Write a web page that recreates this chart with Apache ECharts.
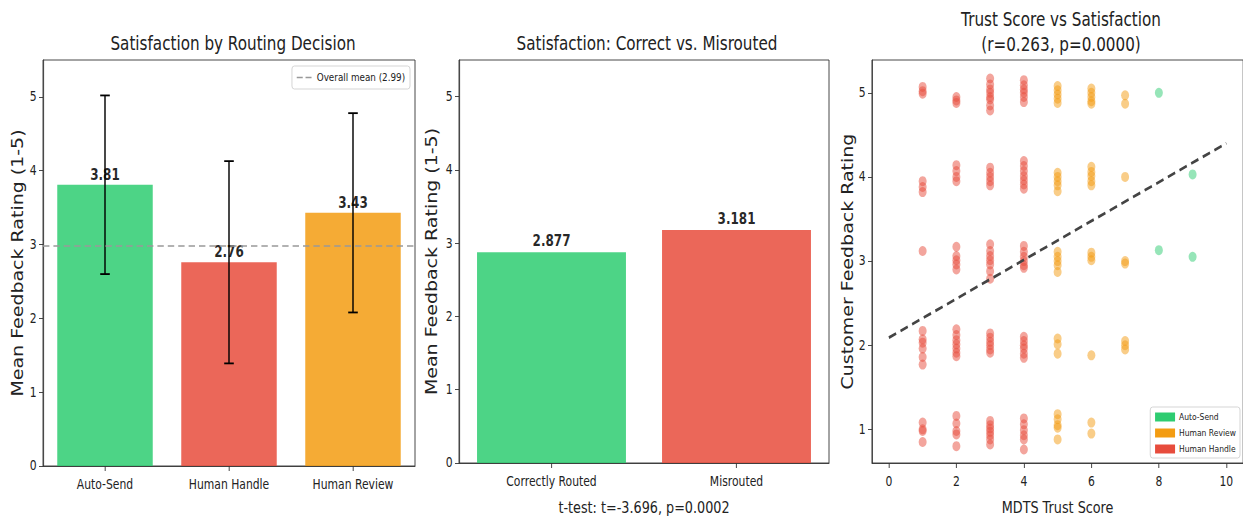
<!DOCTYPE html>
<html>
<head>
<meta charset="utf-8">
<script src="https://cdn.jsdelivr.net/npm/echarts@6/dist/echarts.min.js"></script>
<style>
  html, body { margin: 0; padding: 0; background: #fff; }
  #wrap { width: 1243px; height: 520px; overflow: hidden; position: relative; }
  #chart { width: 1554px; height: 520px; transform: scaleX(0.8); transform-origin: 0 0; }
</style>
</head>
<body>
<div id="wrap"><div id="chart"></div></div>
<script>
// ---- data ----
const routeCategories = ['Auto-Send', 'Human Handle', 'Human Review'];
const routeMeans = [3.81, 2.76, 3.43];
const routeStd = [1.21, 1.37, 1.35];
const overallMean = 2.99;

const outcomeCategories = ['Correctly Routed', 'Misrouted'];
const outcomeMeans = [2.877, 3.181];
const tTestText = 't-test: t=-3.696, p=0.0002';

const ratingTicks = [0, 1, 2, 3, 4, 5];
const feedbackTicks = [1, 2, 3, 4, 5];
const trustTicks = [0, 2, 4, 6, 8, 10];

// [MDTS trust score, jittered feedback rating]
const autoSendPoints = [[8, 5.0], [8, 3.13], [9, 4.03], [9, 3.05]];
const humanReviewPoints = [
  [5, 5.08], [5, 5.03], [5, 4.98], [5, 4.93], [5, 4.88], [5, 4.05], [5, 4.0], [5, 3.95], [5, 3.9], [5, 3.83],
  [5, 3.11], [5, 3.05], [5, 3.0], [5, 2.95], [5, 2.87], [5, 2.08], [5, 2.01], [5, 1.9],
  [5, 1.18], [5, 1.12], [5, 1.05], [5, 1.02], [5, 0.88],
  [6, 5.05], [6, 5.0], [6, 4.95], [6, 4.9], [6, 4.87], [6, 4.12], [6, 4.06], [6, 4.01], [6, 3.95], [6, 3.9],
  [6, 3.1], [6, 3.05], [6, 3.01], [6, 1.88], [6, 1.08], [6, 0.95],
  [7, 4.97], [7, 4.87], [7, 4.0], [7, 3.0], [7, 2.97], [7, 2.05], [7, 2.0], [7, 1.95]
];
const humanHandlePoints = [
  [1, 5.07], [1, 5.02], [1, 4.99], [1, 3.95], [1, 3.88], [1, 3.82], [1, 3.12],
  [1, 2.17], [1, 2.07], [1, 2.03], [1, 1.96], [1, 1.86], [1, 1.77], [1, 1.08], [1, 1.0], [1, 0.98], [1, 0.85],
  [2, 4.95], [2, 4.91], [2, 4.88], [2, 4.14], [2, 4.07], [2, 4.0], [2, 3.95], [2, 3.17], [2, 3.06], [2, 3.01],
  [2, 2.96], [2, 2.9], [2, 2.19], [2, 2.12], [2, 2.06], [2, 2.01], [2, 1.96], [2, 1.91], [2, 1.87],
  [2, 1.16], [2, 1.07], [2, 0.98], [2, 0.94], [2, 0.8],
  [3, 5.17], [3, 5.1], [3, 5.04], [3, 5.0], [3, 4.95], [3, 4.92], [3, 4.85], [3, 4.79], [3, 4.11], [3, 4.05],
  [3, 4.0], [3, 3.95], [3, 3.9], [3, 3.2], [3, 3.12], [3, 3.06], [3, 3.01], [3, 2.96], [3, 2.88], [3, 2.79],
  [3, 2.14], [3, 2.09], [3, 2.04], [3, 2.0], [3, 1.95], [3, 1.91], [3, 1.1], [3, 1.05], [3, 1.01], [3, 0.97],
  [3, 0.93], [3, 0.88], [3, 0.82],
  [4, 5.15], [4, 5.09], [4, 5.04], [4, 5.0], [4, 4.95], [4, 4.89], [4, 4.19], [4, 4.13], [4, 4.07], [4, 4.01],
  [4, 3.96], [4, 3.91], [4, 3.86], [4, 3.18], [4, 3.11], [4, 3.05], [4, 3.0], [4, 2.95], [4, 2.92],
  [4, 2.1], [4, 2.05], [4, 2.0], [4, 1.96], [4, 1.9], [4, 1.85], [4, 1.13], [4, 1.06], [4, 0.99], [4, 0.93],
  [4, 0.88], [4, 0.76]
];
// least-squares fit endpoints (trust 0 and 10)
const fitLine = [[0, 2.09], [10, 4.4]];
const corrTitle = 'Trust Score vs Satisfaction\n(r=0.263, p=0.0000)';

// ---- styling ----
const SX = 0.8;                 // horizontal scale applied to the canvas
const W = 1554;                 // unscaled canvas width
const X = v => v / SX;          // page px -> canvas px (horizontal)
const FONT = "'DejaVu Sans', sans-serif";
const GREEN = '#2ecc71', RED = '#e74c3c', ORANGE = '#f39c12';
const routeColors = [GREEN, RED, ORANGE];
const outcomeColors = [GREEN, RED];
const ink = '#222';
// two short dashes, as a legend key for the dashed mean line
const DASH_ICON = 'path://M0,0L0.01,0L0.01,0.01Z M0,4.2H7.5V5.8H0Z M11,4.2H18.5V5.8H11Z M20,10L19.99,10L19.99,9.99Z';

const chart = echarts.init(document.getElementById('chart'), null, { renderer: 'svg' });

function grid(leftPx, rightEdgePx) {
  return {
    left: X(leftPx), right: W - X(rightEdgePx), top: 60, bottom: 54,
    show: true, borderColor: '#333', borderWidth: 1, backgroundColor: 'transparent'
  };
}

function yAxisCommon(idx, name, gap, min, max, ticks) {
  return {
    type: 'value', gridIndex: idx, min, max,
    name, nameLocation: 'middle', nameGap: gap, nameRotate: 90,
    nameTextStyle: { fontFamily: FONT, fontSize: 19, color: ink },
    axisLine: { show: true, onZero: false, lineStyle: { color: '#333', width: 1 } },
    axisTick: { show: true, length: 5, lineStyle: { color: '#333' }, customValues: ticks },
    axisLabel: { fontFamily: FONT, fontSize: 13.5, color: ink, margin: 8, customValues: ticks },
    splitLine: { show: false }
  };
}

function catAxis(idx, data, name) {
  return {
    type: 'category', gridIndex: idx, data,
    name: name || '', nameLocation: 'middle', nameGap: 36,
    nameTextStyle: { fontFamily: FONT, fontSize: 16, color: ink },
    axisLine: { show: true, onZero: false, lineStyle: { color: '#333', width: 1 } },
    axisTick: { show: true, alignWithLabel: true, length: 5, lineStyle: { color: '#333' } },
    axisLabel: { fontFamily: FONT, fontSize: 13.5, color: ink, margin: 12, interval: 0 },
    splitLine: { show: false }
  };
}

const errorBars = routeMeans.map((m, i) => [i, m - routeStd[i], m + routeStd[i]]);

const option = {
  backgroundColor: '#fff',
  animation: false,
  title: [
    { text: 'Satisfaction by Routing Decision', left: X(229), top: 29, textAlign: 'center',
      textStyle: { fontFamily: FONT, fontSize: 19, fontWeight: 'normal', color: ink } },
    { text: 'Satisfaction: Correct vs. Misrouted', left: X(643), top: 29, textAlign: 'center',
      textStyle: { fontFamily: FONT, fontSize: 19, fontWeight: 'normal', color: ink } },
    { text: corrTitle, left: X(1057), top: 2, textAlign: 'center',
      textStyle: { fontFamily: FONT, fontSize: 19, fontWeight: 'normal', color: ink, lineHeight: 25 } }
  ],
  legend: [
    {
      data: [{ name: 'Overall mean (2.99)', icon: DASH_ICON }],
      right: W - X(410), top: 66, orient: 'vertical',
      itemWidth: 20, itemHeight: 10, padding: [6, 6, 6, 6],
      backgroundColor: '#fff', borderColor: '#d0d0d0', borderWidth: 1, borderRadius: 3,
      itemStyle: { color: '#999', opacity: 1 },
      textStyle: { fontFamily: FONT, fontSize: 11, color: ink }
    },
    {
      data: ['Auto-Send', 'Human Review', 'Human Handle'],
      right: 4, bottom: 62, orient: 'vertical', icon: 'rect',
      itemWidth: 25, itemHeight: 9, itemGap: 6, padding: [5, 5, 4, 6],
      backgroundColor: '#fff', borderColor: '#d0d0d0', borderWidth: 1, borderRadius: 3,
      itemStyle: { opacity: 1 },
      textStyle: { fontFamily: FONT, fontSize: 9.5, color: ink }
    }
  ],
  grid: [grid(43, 415), grid(459, 829), {
    left: X(872), right: -3, top: 60, bottom: 53,
    show: true, borderColor: '#333', borderWidth: 1, backgroundColor: 'transparent'
  }],
  xAxis: [
    catAxis(0, routeCategories),
    catAxis(1, outcomeCategories, tTestText),
    {
      type: 'value', gridIndex: 2, min: -0.5, max: 10.5,
      name: 'MDTS Trust Score', nameLocation: 'middle', nameGap: 36,
      nameTextStyle: { fontFamily: FONT, fontSize: 16, color: ink },
      axisLine: { show: true, onZero: false, lineStyle: { color: '#333', width: 1 } },
      axisTick: { show: true, length: 5, lineStyle: { color: '#333' }, customValues: trustTicks },
      axisLabel: { fontFamily: FONT, fontSize: 13.5, color: ink, margin: 12, customValues: trustTicks },
      splitLine: { show: false }
    }
  ],
  yAxis: [
    yAxisCommon(0, 'Mean Feedback Rating (1-5)', 22, 0, 5.5, ratingTicks),
    yAxisCommon(1, 'Mean Feedback Rating (1-5)', 25, 0, 5.5, ratingTicks),
    yAxisCommon(2, 'Customer Feedback Rating', 21, 0.6, 5.39, feedbackTicks)
  ],
  series: [
    {
      type: 'bar', xAxisIndex: 0, yAxisIndex: 0, barCategoryGap: '23%',
      data: routeMeans.map((v, i) => ({ value: v, itemStyle: { color: routeColors[i], opacity: 0.85 } })),
      label: {
        show: true, position: 'top', distance: 3,
        formatter: p => p.value.toFixed(2),
        fontFamily: FONT, fontSize: 15, fontWeight: 'bold', color: '#000'
      },
      z: 2
    },
    {
      type: 'custom', xAxisIndex: 0, yAxisIndex: 0, data: errorBars,
      encode: { x: 0, y: [1, 2] },
      renderItem: function (params, api) {
        const lo = api.coord([api.value(0), api.value(1)]);
        const hi = api.coord([api.value(0), api.value(2)]);
        const cap = 6;
        const st = { stroke: '#000', lineWidth: 1.8 };
        return {
          type: 'group',
          children: [
            { type: 'line', shape: { x1: lo[0], y1: lo[1], x2: hi[0], y2: hi[1] }, style: st },
            { type: 'line', shape: { x1: lo[0] - cap, y1: lo[1], x2: lo[0] + cap, y2: lo[1] }, style: st },
            { type: 'line', shape: { x1: hi[0] - cap, y1: hi[1], x2: hi[0] + cap, y2: hi[1] }, style: st }
          ]
        };
      },
      z: 4
    },
    {
      name: 'Overall mean (2.99)', type: 'line', xAxisIndex: 0, yAxisIndex: 0,
      data: [], symbol: 'none',
      lineStyle: { color: '#999', width: 1.6, type: [8, 5] },
      itemStyle: { color: '#999' },
      markLine: {
        silent: true, symbol: ['none', 'none'], label: { show: false },
        lineStyle: { color: '#999', width: 1.6, type: [8, 5] },
        data: [{ yAxis: overallMean }]
      },
      z: 3
    },
    {
      type: 'bar', xAxisIndex: 1, yAxisIndex: 1, barCategoryGap: '19.5%',
      data: outcomeMeans.map((v, i) => ({ value: v, itemStyle: { color: outcomeColors[i], opacity: 0.85 } })),
      label: {
        show: true, position: 'top', distance: 4,
        formatter: p => p.value.toFixed(3),
        fontFamily: FONT, fontSize: 15, fontWeight: 'bold', color: '#000'
      }
    },
    {
      name: 'Auto-Send', type: 'scatter', xAxisIndex: 2, yAxisIndex: 2,
      data: autoSendPoints, symbolSize: 10,
      itemStyle: { color: GREEN, opacity: 0.5 }
    },
    {
      name: 'Human Review', type: 'scatter', xAxisIndex: 2, yAxisIndex: 2,
      data: humanReviewPoints, symbolSize: 10,
      itemStyle: { color: ORANGE, opacity: 0.5 }
    },
    {
      name: 'Human Handle', type: 'scatter', xAxisIndex: 2, yAxisIndex: 2,
      data: humanHandlePoints, symbolSize: 10,
      itemStyle: { color: RED, opacity: 0.5 }
    },
    {
      type: 'line', xAxisIndex: 2, yAxisIndex: 2, data: fitLine,
      symbol: 'none', silent: true,
      lineStyle: { color: '#444', width: 2.8, type: [10, 6] },
      z: 5
    }
  ]
};

chart.setOption(option);
</script>
</body>
</html>
